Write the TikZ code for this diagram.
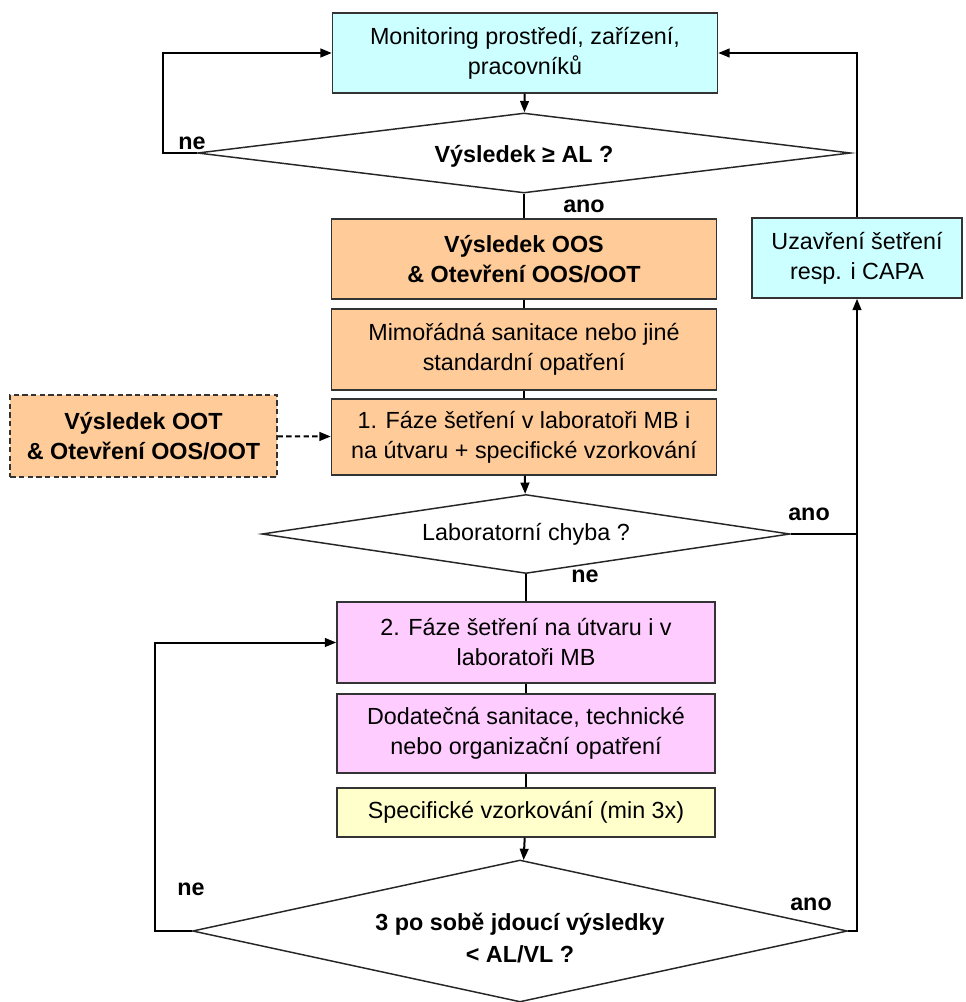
\documentclass[tikz,border=0pt]{standalone}
\usepackage{fontspec}
\setmainfont{Liberation Sans}
\usetikzlibrary{arrows.meta,shapes.geometric}

\definecolor{azur}{HTML}{CCFFFF}
\definecolor{oranz}{HTML}{FFCC99}
\definecolor{ruzova}{HTML}{FFCCFF}
\definecolor{zluta}{HTML}{FFFFCC}
\newcommand{\velke}{\fontsize{17.5}{22.5}\selectfont}

\begin{document}
\begin{tikzpicture}[x=0.75pt, y=-0.75pt,
  box/.style={draw=black!80, line width=1.1pt, align=center, inner sep=2pt,
    minimum width=288.75pt, minimum height=60pt, font=\velke},
  kosoctverec/.style={diamond, draw=black!85, line width=1.1pt, align=center,
    inner sep=0pt, fill=white, font=\velke},
  spoj/.style={line width=1.5pt},
  sip/.style={spoj, -{Triangle[length=8.5pt,width=6.5pt]}},
  popis/.style={font=\velke\bfseries, inner sep=0pt}]
  % plocha jako v predloze (965 x 1002 px)
  \useasboundingbox (0,0) rectangle (965,1002);

  % body pro zalomene spoje
  \coordinate (levo1)  at (163,153);
  \coordinate (levo3)  at (155,931);
  \coordinate (pravo0) at (857,53);
  \coordinate (pravo2) at (857,534);
  \coordinate (pravo3) at (857,931);

  \node[box, fill=azur] (mon) at (525,53) {Monitoring prostředí, zařízení,\\pracovníků};
  \node[kosoctverec, minimum width=489.75pt, minimum height=60pt, aspect=8.2]
    (d1) at (524,153) {};
  \node[popis] (d1txt) at (524,156) {Výsledek ≥ AL ?};
  \node[box, fill=oranz, font=\velke\bfseries] (oos) at (524,259)
    {Výsledek OOS\\\& Otevření OOS/OOT};
  \node[box, fill=oranz, minimum height=60.75pt] (sanit) at (524,349.5)
    {Mimořádná sanitace nebo jiné\\standardní opatření};
  \node[box, fill=oranz, minimum height=57pt] (faze1) at (524,437)
    {1. Fáze šetření v laboratoři MB i\\na útvaru + specifické vzorkování};
  \node[box, fill=oranz, dashed, dash pattern=on 4pt off 2.5pt, font=\velke\bfseries,
    minimum width=200pt, minimum height=61.5pt] (oot) at (143.5,436)
    {Výsledek OOT\\\& Otevření OOS/OOT};
  \node[kosoctverec, minimum width=396pt, minimum height=59.25pt, aspect=6.7]
    (d2) at (526,534) {Laboratorní chyba ?};
  \node[box, fill=azur, minimum width=157.5pt] (uzav) at (857,258)
    {Uzavření šetření\\resp. i CAPA};
  \node[box, fill=ruzova, minimum width=283.5pt, minimum height=60.75pt]
    (faze2) at (526,642.5) {2. Fáze šetření na útvaru i v\\laboratoři MB};
  \node[box, fill=ruzova, minimum width=283.5pt, minimum height=59.25pt]
    (dodat) at (526,733.5) {Dodatečná sanitace, technické\\nebo organizační opatření};
  \node[box, fill=zluta, minimum width=283.5pt, minimum height=36.75pt]
    (vzork) at (526,812.5) {Specifické vzorkování (min 3x)};
  \node[kosoctverec, minimum width=491.25pt, minimum height=106.5pt, aspect=4.6]
    (d3) at (520,931) {};
  \node[popis, align=center] (d3txt) at (520,938)
    {3 po sobě jdoucí výsledky\\[2pt]< AL/VL ?};

  % hlavni tok
  \draw[sip]  (mon) -- (d1);
  \draw[spoj] (d1) -- (oos);
  \draw[spoj] (oos) -- (sanit);
  \draw[spoj] (sanit) -- (faze1);
  \draw[sip]  (faze1) -- (d2);
  \draw[sip, dashed, dash pattern=on 4pt off 2.5pt] (oot) -- (faze1);
  \draw[spoj] (d2) -- (faze2);
  \draw[spoj] (faze2) -- (dodat);
  \draw[spoj] (dodat) -- (vzork);
  \draw[sip]  (vzork) -- (d3);

  % smycky
  \draw[sip]  (d1.west) -- (levo1) |- (mon);
  \draw[sip]  (d3.west) -- (levo3) |- (faze2);
  \draw[spoj] (d2.east) -- (pravo2);
  \draw[sip]  (d3.east) -- (pravo3) -- (uzav);
  \draw[sip]  (uzav) -- (pravo0) -- (mon);

  \node[popis] (ne1)  at (192,143) {ne};
  \node[popis] (ano1) at (584,206) {ano};
  \node[popis] (ano2) at (809,514) {ano};
  \node[popis] (ne2)  at (585,576) {ne};
  \node[popis] (ne3)  at (191,889) {ne};
  \node[popis] (ano3) at (811,904) {ano};
\end{tikzpicture}
\end{document}
